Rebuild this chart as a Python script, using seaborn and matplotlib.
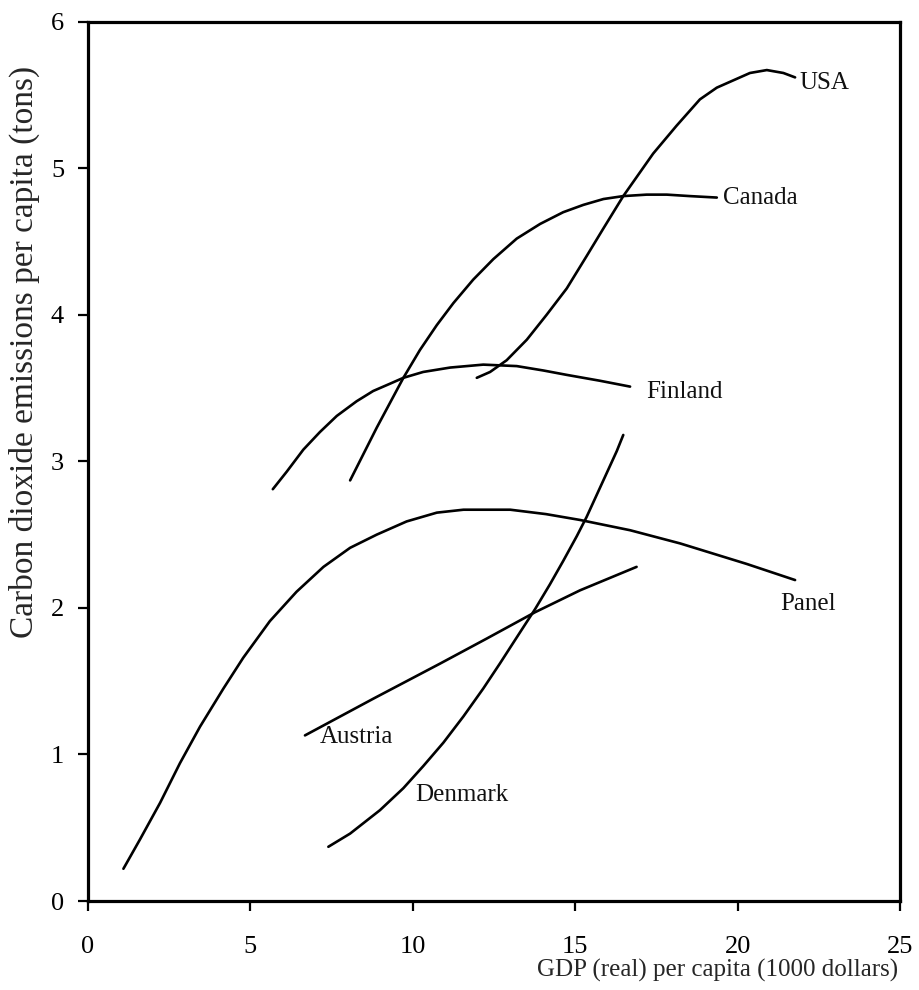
import numpy as np
import pandas as pd
import matplotlib
matplotlib.use("Agg")
import matplotlib.pyplot as plt
import seaborn as sns

sns.set_theme(style="ticks")
plt.rcParams["font.family"] = ["Liberation Serif", "DejaVu Serif"]

# ---- data (GDP in 1000 $, CO2 in tons per capita) ----
panel_x = [1.09, 1.60, 2.22, 2.83, 3.45, 4.17, 4.78, 5.60, 6.42, 7.25, 8.07, 8.89, 9.81, 10.74,
           11.56, 13.0, 14.1, 15.15, 16.69, 18.23, 20.28, 21.77]
panel_y = [0.22, 0.42, 0.67, 0.94, 1.19, 1.45, 1.66, 1.91, 2.11, 2.28, 2.41, 2.50, 2.59, 2.65,
           2.67, 2.67, 2.64, 2.60, 2.53, 2.44, 2.30, 2.19]

denmark_x = [7.40, 8.07, 8.99, 9.71, 10.32, 10.94, 11.56, 12.17, 12.68, 13.0, 13.35, 13.76,
             14.22, 14.63, 15.05, 15.35, 15.66, 15.97, 16.28, 16.48]
denmark_y = [0.37, 0.46, 0.62, 0.77, 0.92, 1.08, 1.26, 1.45, 1.62, 1.73, 1.85, 1.99,
             2.16, 2.32, 2.49, 2.62, 2.77, 2.92, 3.07, 3.18]

austria_x = [6.68, 8.78, 10.84, 12.27, 13.76, 15.15, 16.89]
austria_y = [1.13, 1.38, 1.62, 1.79, 1.97, 2.12, 2.28]

finland_x = [5.69, 6.12, 6.63, 7.14, 7.66, 8.27, 8.78, 9.30, 9.71, 10.32, 11.15, 12.17, 13.2,
             14.02, 14.74, 15.76, 16.69]
finland_y = [2.81, 2.93, 3.08, 3.20, 3.31, 3.41, 3.48, 3.53, 3.57, 3.61, 3.64, 3.66, 3.65,
             3.62, 3.59, 3.55, 3.51]

canada_x = [8.07, 8.89, 9.71, 10.22, 10.74, 11.25, 11.86, 12.48, 13.2, 13.92, 14.63, 15.25,
            15.87, 16.48, 17.2, 17.82, 18.53, 19.36]
canada_y = [2.87, 3.23, 3.57, 3.76, 3.93, 4.08, 4.24, 4.38, 4.52, 4.62, 4.70, 4.75,
            4.79, 4.81, 4.82, 4.82, 4.81, 4.80]

usa_x = [11.97, 12.38, 12.89, 13.51, 14.12, 14.74, 15.35, 15.87, 16.48, 17.4, 18.12, 18.84,
         19.36, 19.87, 20.38, 20.9, 21.41, 21.77]
usa_y = [3.57, 3.61, 3.69, 3.83, 4.00, 4.18, 4.40, 4.59, 4.81, 5.10, 5.29, 5.47,
         5.55, 5.60, 5.65, 5.67, 5.65, 5.62]

# label anchors (left edge, vertical centre)
label_names = ["USA", "Canada", "Finland", "Panel", "Austria", "Denmark"]
label_x = [21.92, 19.55, 17.2, 21.3, 7.14, 10.07]
label_y = [5.58, 4.80, 3.47, 2.03, 1.12, 0.72]

x_ticks = [0, 5, 10, 15, 20, 25]
y_ticks = [0, 1, 2, 3, 4, 5, 6]

curves = {
    "Panel": (panel_x, panel_y),
    "Denmark": (denmark_x, denmark_y),
    "Austria": (austria_x, austria_y),
    "Finland": (finland_x, finland_y),
    "Canada": (canada_x, canada_y),
    "USA": (usa_x, usa_y),
}

df = pd.concat(
    [pd.DataFrame({"gdp": xs, "co2": ys, "country": name}) for name, (xs, ys) in curves.items()],
    ignore_index=True,
)

fig = plt.figure(figsize=(9.19, 9.9), dpi=100)
ax = fig.add_axes([88 / 919, 1 - 901 / 990, 812 / 919, 879.3 / 990])

sns.lineplot(
    data=df, x="gdp", y="co2", units="country", estimator=None,
    sort=False, color="black", linewidth=1.9, ax=ax,
)
for ln in ax.get_lines():
    ln.set_solid_joinstyle("round")
    ln.set_solid_capstyle("round")

for name, lx, ly in zip(label_names, label_x, label_y):
    ax.text(lx, ly, name, fontsize=18, ha="left", va="center", color="#111111")

ax.set_xlim(0, 25)
ax.set_ylim(0, 6)
ax.set_xticks(x_ticks)
ax.set_yticks(y_ticks)
ax.tick_params(axis="both", direction="out", length=7.2, width=1.6,
               labelsize=19, colors="black")
ax.tick_params(axis="x", pad=18)
ax.tick_params(axis="y", pad=10)

for sp in ax.spines.values():
    sp.set_visible(True)
    sp.set_linewidth(2.3)
    sp.set_color("black")

ax.set_xlabel("GDP (real) per capita (1000 dollars)", fontsize=18, ha="right", va="center")
ax.xaxis.set_label_coords((898 - 88) / 812, (901 - 970) / 879.3)
ax.set_ylabel("Carbon dioxide emissions per capita (tons)", fontsize=24, ha="center", va="center")
ax.yaxis.set_label_coords((24 - 88) / 812, (901 - 352) / 879.3)

ax.grid(False)
ax.set_facecolor("white")
fig.patch.set_facecolor("white")

fig.savefig("out.png", dpi=100)
